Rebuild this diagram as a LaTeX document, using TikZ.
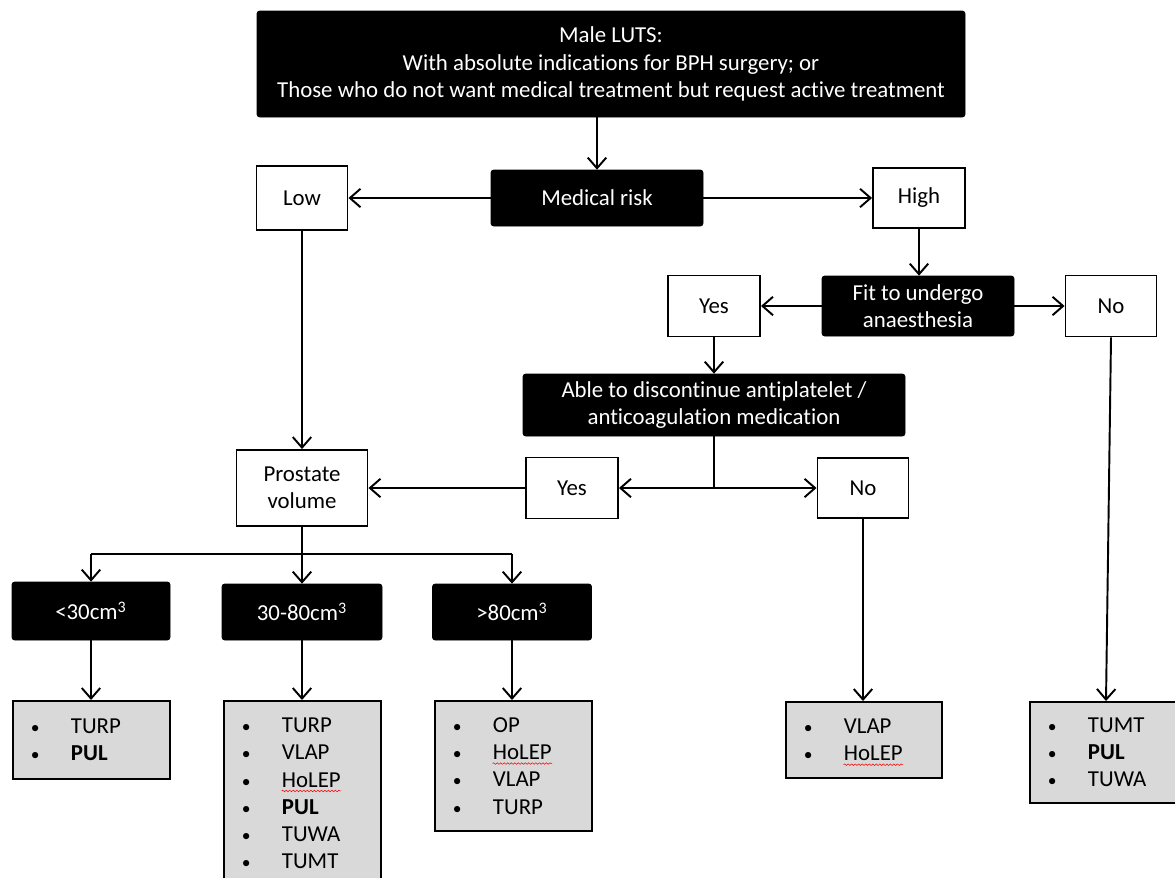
\documentclass[tikz,border=0pt]{standalone}
\usepackage{fontspec}
\setmainfont{Carlito}[Ligatures=NoCommon]
\usetikzlibrary{arrows.meta,decorations.pathmorphing}
\definecolor{boxgray}{HTML}{D9D9D9}
\newcommand\fs{\fontsize{13}{15.5}\selectfont}
\newcommand\itm[1]{\makebox[0.8cm][l]{\fontsize{10}{10}\selectfont\textbullet}#1}
\newcommand\wavy[1]{\tikz[baseline=(w.base)]{\node[inner sep=0pt,draw=none,fill=none,text=black,minimum width=0pt,minimum height=0pt](w){#1};\draw[overlay,red,line width=0.3pt,decorate,decoration={snake,amplitude=0.45pt,segment length=2pt}]([yshift=-2.2pt]w.base west)--([yshift=-2.2pt]w.base east);}}
\tikzset{
  x=0.02cm, y=-0.02cm,
  sz/.style 2 args={minimum width=#1*0.02cm, minimum height=#2*0.02cm},
  blk/.style={fill=black, draw=black, rounded corners=1.5pt, text=white, align=center, font=\fs, inner sep=0pt},
  wht/.style={draw=black, line width=1.1pt, fill=white, align=center, font=\fs, inner sep=0pt},
  leaf/.style={draw=black, line width=1.1pt, fill=boxgray, align=left, font=\fs, anchor=north west, inner xsep=0.36cm, inner ysep=0pt},
  arr/.style={line width=1.1pt, -{Straight Barb[length=6pt,width=10.5pt]}},
  ln/.style={line width=1.1pt},
}
\begin{document}
\begin{tikzpicture}
\useasboundingbox (0,0) rectangle (1175,877);
\clip (0,0) rectangle (1175,877);
% nodes
\node[blk, sz={708}{106}] (top) at (611,64) {Male LUTS:\\With absolute indications for BPH surgery; or\\Those who do not want medical treatment but request active treatment};
\node[blk, sz={212}{56}] (risk) at (597,198) {Medical risk};
\node[wht, sz={91}{64}] (low) at (302,198) {Low};
\node[wht, sz={92}{60}] (high) at (919,198) {High};
\node[blk, sz={192}{60}] (fit) at (918,306) {Fit to undergo\\anaesthesia};
\node[wht, sz={92}{61}] (yes1) at (714,306) {Yes};
\node[wht, sz={91}{61}] (no1) at (1111,306) {No};
\node[blk, sz={382}{62}] (able) at (714,405) {Able to discontinue antiplatelet /\\anticoagulation medication};
\node[wht, sz={92}{61}] (yes2) at (572,488) {Yes};
\node[wht, sz={91}{60}] (no2) at (863,488) {No};
\node[wht, sz={131}{76}] (pv) at (302,488) {Prostate\\volume};
\node[blk, sz={158}{58}] (c1) at (91,611) {<30cm\textsuperscript{3}};
\node[blk, sz={160}{56}] (c2) at (302,612) {30-80cm\textsuperscript{3}};
\node[blk, sz={159}{56}] (c3) at (512,612) {>80cm\textsuperscript{3}};
\node[leaf, text width=2.42cm, minimum height=1.56cm] (L1) at (12,700) {\itm{TURP}\\\itm{\textbf{PUL}}};
\node[leaf, text width=2.42cm, minimum height=3.7cm] (L2) at (223,700) {\itm{TURP}\\\itm{VLAP}\\\itm{\wavy{HoLEP}}\\\itm{\textbf{PUL}}\\\itm{TUWA}\\\itm{TUMT}};
\node[leaf, text width=2.42cm, minimum height=2.6cm] (L3) at (434,700) {\itm{OP}\\\itm{\wavy{HoLEP}}\\\itm{VLAP}\\\itm{TURP}};
\node[leaf, text width=2.4cm, minimum height=1.52cm] (L4) at (785,701) {\itm{VLAP}\\\itm{\wavy{HoLEP}}};
\node[leaf, text width=2.5cm, minimum height=2.02cm] (L5) at (1029,701) {\itm{TUMT}\\\itm{\textbf{PUL}}\\\itm{TUWA}};
% coordinates
\coordinate (j) at (714,488);
\coordinate (k) at (302,554);
\coordinate (L5top) at (1106,701);
% connectors
\draw[arr] (risk |- top.south) -- (risk.north);
\draw[arr] (risk.west) -- (low.east);
\draw[arr] (risk.east) -- (high.west);
\draw[arr] (high.south) -- (high.south |- fit.north);
\draw[arr] (fit.west) -- (yes1.east);
\draw[arr] (fit.east) -- (no1.west);
\draw[arr] (yes1.south) -- (able.north);
\draw[ln] (able.south) -- (j);
\draw[arr] (j) -- (yes2.east);
\draw[arr] (j) -- (no2.west);
\draw[arr] (yes2.west) -- (pv.east);
\draw[arr] (low.south) -- (pv.north);
\draw[ln] (pv.south) -- (k);
\draw[ln] (c1 |- k) -- (c3 |- k);
\draw[arr] (c1 |- k) -- (c1.north);
\draw[arr] (k) -- (c2.north);
\draw[arr] (c3 |- k) -- (c3.north);
\draw[arr] (c1.south) -- (c1.south |- L1.north);
\draw[arr] (c2.south) -- (c2.south |- L2.north);
\draw[arr] (c3.south) -- (c3.south |- L3.north);
\draw[arr] (no2.south) -- (no2.south |- L4.north);
\draw[arr] (no1.south) -- (L5top);
\end{tikzpicture}
\end{document}
